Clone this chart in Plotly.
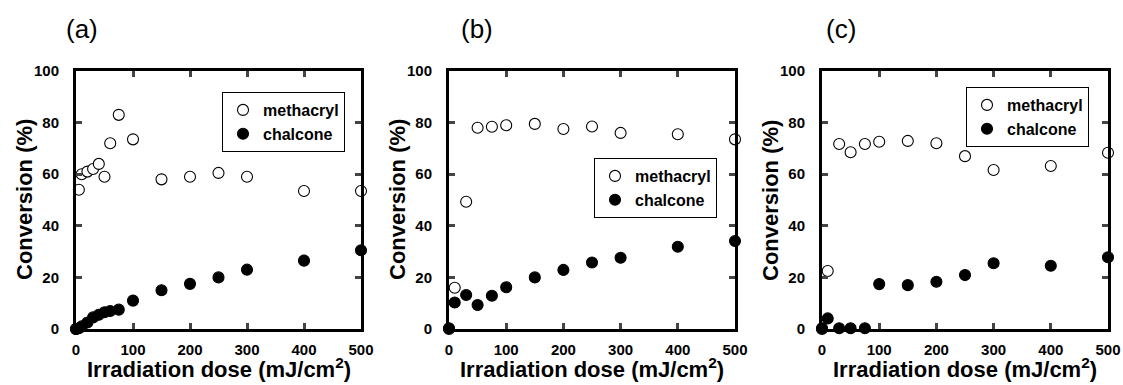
import plotly.graph_objects as go

# ---- data ----
dose_a_meth = [0, 5, 10, 20, 30, 40, 50, 60, 75, 100, 150, 200, 250, 300, 400, 500]
conv_a_meth = [0, 54, 60, 61, 62, 64, 59, 72, 83, 73.5, 58, 59, 60.5, 59, 53.5, 53.5]
dose_a_chal = [0, 5, 10, 20, 30, 40, 50, 60, 75, 100, 150, 200, 250, 300, 400, 500]
conv_a_chal = [0, 0.3, 1, 2.5, 4.5, 5.5, 6.5, 7, 7.5, 11, 15, 17.5, 20, 23, 26.5, 30.5]

dose_b = [0, 10, 30, 50, 75, 100, 150, 200, 250, 300, 400, 500]
conv_b_meth = [0, 16, 49.3, 78, 78.4, 79, 79.5, 77.5, 78.5, 76, 75.5, 73.5]
conv_b_chal = [0.3, 10.3, 13.2, 9.3, 12.9, 16.2, 20, 22.9, 25.8, 27.6, 31.9, 34.1]

dose_c = [0, 10, 30, 50, 75, 100, 150, 200, 250, 300, 400, 500]
conv_c_meth = [0, 22.5, 71.7, 68.5, 71.7, 72.6, 72.9, 72, 67, 61.6, 63.2, 68.3]
conv_c_chal = [0.3, 4.1, 0.3, 0.3, 0.3, 17.4, 17, 18.3, 20.9, 25.5, 24.5, 27.8]

panel_labels = ["(a)", "(b)", "(c)"]
series_names = ["methacryl", "chalcone"]
x_title = "<b>Irradiation dose (mJ/cm<sup>2</sup>)</b>"
y_title = "<b>Conversion (%)</b>"
x_ticks = [0, 100, 200, 300, 400, 500]
y_ticks = [0, 20, 40, 60, 80, 100]

W, H = 1123, 385
FONT = "Liberation Sans, Arial, sans-serif"


def px(x):
    return x / W


def py(y):
    return 1 - y / H


panels = [
    (dose_a_meth, conv_a_meth, dose_a_chal, conv_a_chal),
    (dose_b, conv_b_meth, dose_b, conv_b_chal),
    (dose_c, conv_c_meth, dose_c, conv_c_chal),
]
x_px = [(76, 361), (449, 735), (822, 1108)]
y_top, y_bot = 71, 329
legend_pos = [(222, 92), (594, 158), (966, 87)]
label_x = [82, 477, 841]

fig = go.Figure()
for i, (xm, ym, xc, yc) in enumerate(panels):
    sfx = "" if i == 0 else str(i + 1)
    leg = "legend" if i == 0 else f"legend{i+1}"
    fig.add_trace(go.Scatter(
        x=xm, y=ym, mode="markers", name=series_names[0],
        xaxis="x" + sfx, yaxis="y" + sfx, legend=leg, cliponaxis=False,
        marker=dict(symbol="circle", size=11, color="white",
                    line=dict(color="black", width=1.1))))
    fig.add_trace(go.Scatter(
        x=xc, y=yc, mode="markers", name=series_names[1],
        xaxis="x" + sfx, yaxis="y" + sfx, legend=leg, cliponaxis=False,
        marker=dict(symbol="circle", size=11, color="black",
                    line=dict(color="black", width=1.1))))

layout = dict(
    width=W, height=H, margin=dict(l=0, r=0, t=0, b=0, autoexpand=False),
    paper_bgcolor="white", plot_bgcolor="white",
    font=dict(family=FONT, color="black"),
    showlegend=True,
)
annotations = []
for i in range(3):
    sfx = "" if i == 0 else str(i + 1)
    x0, x1 = x_px[i]
    layout["xaxis" + sfx] = dict(
        domain=[px(x0), px(x1)], range=[0, 500], anchor="y" + sfx,
        tickvals=x_ticks, ticks="inside", ticklen=6, tickwidth=3,
        showline=True, linewidth=3, linecolor="black", mirror="allticks",
        showgrid=False, zeroline=False, automargin=False,
        tickfont=dict(size=15, family=FONT, weight="bold"),
        ticklabelstandoff=5,
    )
    layout["yaxis" + sfx] = dict(
        domain=[py(y_bot), py(y_top)], range=[0, 100], anchor="x" + sfx,
        tickvals=y_ticks, ticks="inside", ticklen=6, tickwidth=3,
        showline=True, linewidth=3, linecolor="black", mirror="allticks",
        showgrid=False, zeroline=False, automargin=False,
        tickfont=dict(size=15, family=FONT, weight="bold"),
        ticklabelstandoff=11,
    )
    lx, ly = legend_pos[i]
    leg = "legend" if i == 0 else f"legend{i+1}"
    layout[leg] = dict(
        x=px(lx), y=py(ly), xanchor="left", yanchor="top",
        xref="paper", yref="paper",
        bgcolor="white", bordercolor="black", borderwidth=1,
        font=dict(size=16, family=FONT, weight="bold"),
        itemwidth=30, tracegroupgap=0,
    )
    annotations.append(dict(
        text=panel_labels[i], x=px(label_x[i]), y=py(29),
        xref="paper", yref="paper", xanchor="center", yanchor="middle",
        showarrow=False, font=dict(size=26, family=FONT)))
    annotations.append(dict(
        text=x_title, x=px((x0 + x1) / 2), y=py(368),
        xref="paper", yref="paper", xanchor="center", yanchor="middle",
        showarrow=False, font=dict(size=22, family=FONT)))
    annotations.append(dict(
        text=y_title, x=px(x0 - 51), y=py((y_top + y_bot) / 2), textangle=-90,
        xref="paper", yref="paper", xanchor="center", yanchor="middle",
        showarrow=False, font=dict(size=22, family=FONT)))
layout["annotations"] = annotations
fig.update_layout(**layout)
fig.write_html(
    "out.html",
    config={"displayModeBar": False},
    post_script="document.body.style.margin='0';document.body.style.overflow='hidden';",
)
